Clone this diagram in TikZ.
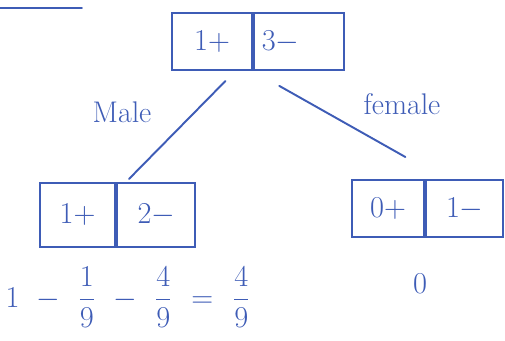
\documentclass[tikz,border=0pt]{standalone}
\usetikzlibrary{positioning}
\definecolor{ink}{RGB}{62,92,182}

\begin{document}
\begin{tikzpicture}[
  color=ink,
  font=\fontsize{19}{22}\selectfont,
  cell/.style={draw,line width=1.3pt,minimum height=1.14cm,inner sep=0pt,align=center},
  edge/.style={line width=1.1pt,line cap=round},
  branch/.style={font=\fontsize{17}{20}\selectfont},
]
  \useasboundingbox (0,0) rectangle (10.1,-6.8);

  \node[cell,minimum width=1.6cm] (rootpos) at (4.24,-0.83) {$1+$};
  \node[cell,minimum width=1.8cm,text width=1.5cm,align=left,right=0pt of rootpos] (rootneg) {$3-$};

  \node[cell,minimum width=1.5cm,minimum height=1.28cm] (malepos) at (1.55,-4.3) {$1+$};
  \node[cell,minimum width=1.56cm,minimum height=1.28cm,right=0pt of malepos] (maleneg) {$2-$};

  \node[cell,minimum width=1.44cm] (femalepos) at (7.76,-4.17) {$0+$};
  \node[cell,minimum width=1.54cm,right=0pt of femalepos] (femaleneg) {$1-$};

  % branches
  \draw[edge,shorten <=0.28cm,shorten >=0.08cm] ([xshift=-0.36cm]rootpos.south east) -- ([xshift=0.2cm]maleneg.north west);
  \draw[edge,shorten <=0.6cm,shorten >=0.89cm] (rootpos.south east) -- ([xshift=0.38cm]femaleneg.north west);
  \node[branch] (male) at (2.44,-2.24) {Male};
  \node[branch] (female) at (8.04,-2.08) {female};

  % results
  \node (malegain) at (2.56,-5.95) {$\displaystyle 1\hspace{6pt}-\hspace{6pt}\frac{1}{9}\hspace{6pt}-\hspace{6pt}\frac{4}{9}\hspace{6pt}=\hspace{6pt}\frac{4}{9}$};
  \node (femalegain) at (8.4,-5.68) {$0$};

  \draw[edge] (0,-0.16) -- (1.64,-0.16);
\end{tikzpicture}
\end{document}
